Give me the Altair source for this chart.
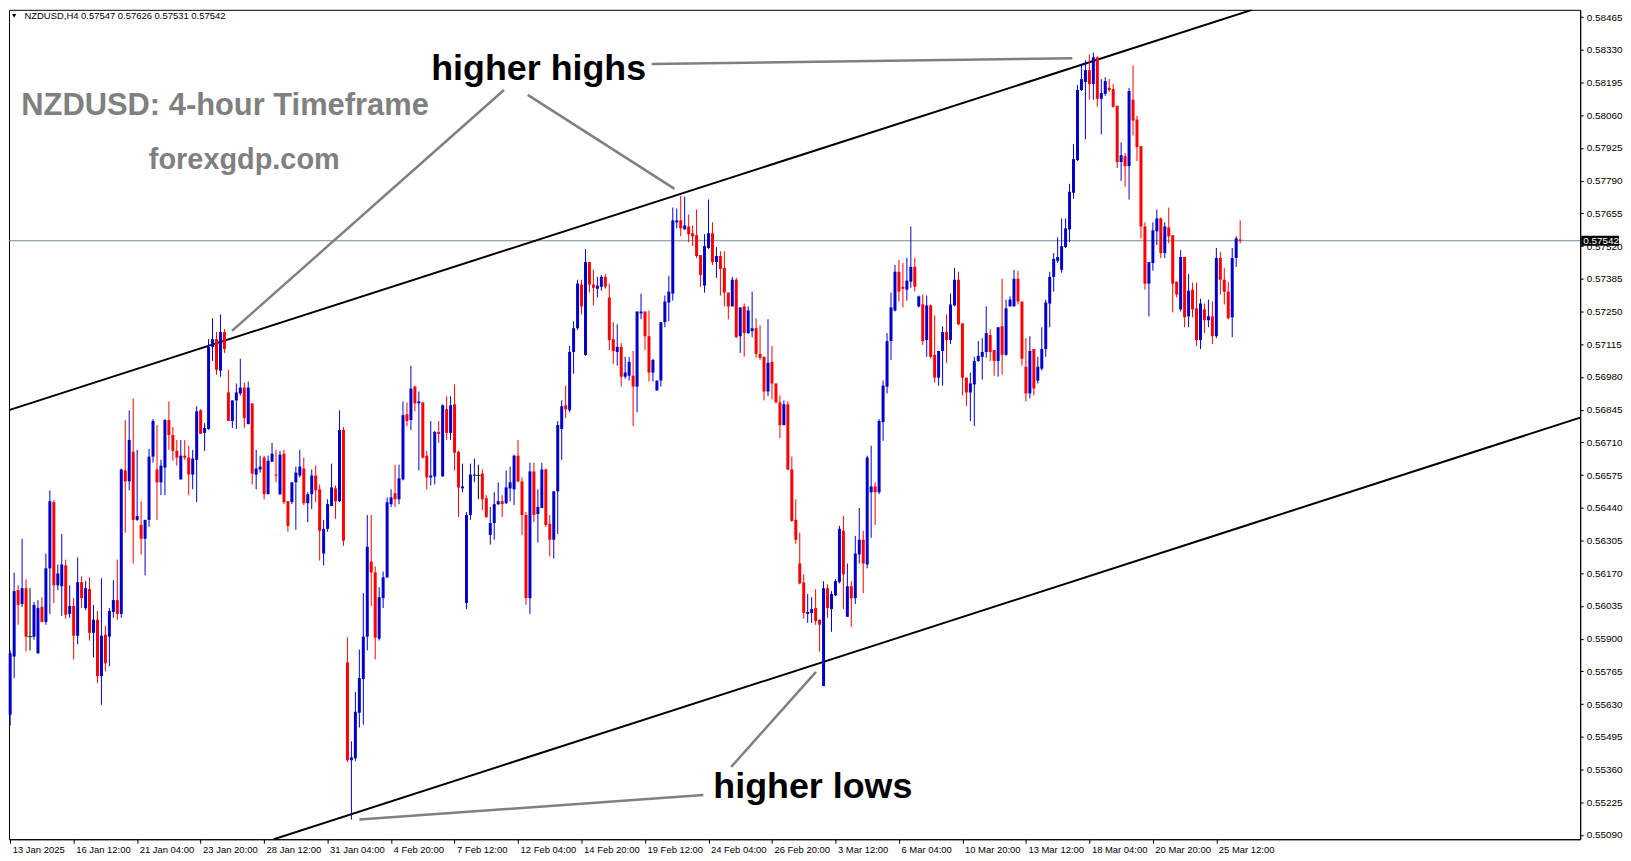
import altair as alt
import pandas as pd

# NZDUSD H4 candles, prices in points (1 point = 0.00001)
open_pts = [
    55586, 55826, 56100, 56043, 56108, 55908, 55908, 55839, 56031, 55969,
    56190, 56463, 56120, 56116, 56202, 56002, 56035, 55912, 56133, 56026,
    56104, 55924, 55978, 55745, 55916, 55908, 56010, 56059, 56002, 56594,
    56549, 56671, 56390, 56369, 56312, 56390, 56651, 56598, 56545, 56606,
    56802, 56740, 56675, 56557, 56655, 56647, 56577, 56638, 56842, 56749,
    56765, 57104, 57136, 57006, 57165, 56916, 56798, 56883, 56912, 56936,
    56785, 56871, 56577, 56598, 56647, 56496, 56630, 56577, 56496, 56663,
    56467, 56463, 56545, 56573, 56602, 56459, 56496, 56573, 56516, 56251,
    56353, 56447, 56520, 56467, 56761, 55802, 55398, 55406, 55594, 55733,
    55908, 56218, 56173, 55900, 56067, 56153, 56455, 56500, 56475, 56557,
    56826, 56802, 56940, 56871, 56875, 56655, 56565, 56569, 56753, 56569,
    56847, 56749, 56867, 56671, 56520, 56047, 56410, 56573, 56573, 56581,
    56479, 56328, 56377, 56455, 56467, 56459, 56520, 56516, 56655, 56549,
    56410, 56067, 56590, 56414, 56439, 56598, 56373, 56308, 56508, 56765,
    56863, 56842, 57083, 57181, 57361, 57071, 57454, 57361, 57344, 57352,
    57393, 57308, 57136, 57083, 57104, 56981, 56985, 56985, 56940, 57242,
    57250, 57148, 56998, 56924, 56965, 57206, 57287, 57324, 57618, 57626,
    57589, 57601, 57573, 57565, 57483, 57357, 57512, 57573, 57454, 57479,
    57430, 57328, 57271, 57381, 57148, 57271, 57161, 57169, 57181, 57075,
    57063, 56920, 57042, 56953, 56875, 56781, 56867, 56598, 56390, 56210,
    56132, 56002, 56006, 56026, 55978, 55704, 56108, 56022, 56079, 56133,
    56345, 55990, 56116, 56067, 56247, 56308, 56206, 56504, 56528, 56504,
    56793, 56940, 57128, 57254, 57414, 57352, 57340, 57373, 57434, 57271,
    57279, 57132, 57275, 57071, 56977, 57087, 57165, 57132, 57275, 57381,
    57201, 56977, 56916, 56949, 57046, 57063, 57083, 57153, 57091, 57046,
    57189, 57071, 57271, 57271, 57385, 57291, 57022, 56912, 57095, 56965,
    57014, 57095, 57283, 57393, 57459, 57422, 57516, 57589, 57740, 57875,
    58164, 58197, 58246, 58189, 58299, 58128, 58148, 58173, 58168, 58099,
    57867, 57891, 57850, 58124, 58042, 57932, 57601, 57365, 57450, 57581,
    57634, 57491, 57597, 57565, 57373, 57259, 57475, 57230, 57340, 57263,
    57132, 57259, 57214, 57230, 57148, 57471, 57381, 57332, 57226, 57471,
    57547,
]
high_pts = [
    55851, 56173, 56120, 56312, 56145, 56108, 56051, 56059, 56071, 56251,
    56512, 56471, 56206, 56332, 56226, 56120, 56067, 56235, 56157, 56137,
    56153, 56039, 56014, 56149, 55953, 56026, 56141, 56226, 56602, 56802,
    56842, 56891, 56679, 56467, 56390, 56683, 56806, 56781, 56638, 56806,
    56879, 56773, 56720, 56720, 56720, 56696, 56679, 56859, 56847, 56789,
    57136, 57222, 57165, 57238, 57177, 57010, 56883, 56953, 57055, 56957,
    56961, 56871, 56679, 56655, 56655, 56655, 56708, 56679, 56675, 56679,
    56467, 56545, 56610, 56679, 56647, 56504, 56598, 56614, 56536, 56390,
    56475, 56622, 56532, 56842, 56773, 55904, 55476, 55680, 55855, 56088,
    56410, 56410, 56198, 56112, 56177, 56483, 56516, 56618, 56618, 56879,
    56875, 57026, 56944, 56920, 56875, 56675, 56798, 56757, 56798, 56867,
    56900, 56900, 56949, 56675, 56622, 56422, 56622, 56643, 56618, 56598,
    56492, 56443, 56504, 56545, 56492, 56594, 56610, 56659, 56720, 56565,
    56422, 56626, 56626, 56516, 56626, 56602, 56410, 56508, 56798, 56883,
    56944, 57108, 57210, 57381, 57381, 57508, 57454, 57422, 57393, 57401,
    57405, 57365, 57206, 57197, 57120, 57063, 57063, 57087, 57250, 57324,
    57250, 57254, 57055, 56965, 57206, 57316, 57397, 57679, 57675, 57728,
    57724, 57650, 57605, 57671, 57483, 57569, 57712, 57618, 57516, 57499,
    57499, 57328, 57393, 57389, 57267, 57283, 57271, 57332, 57222, 57193,
    57063, 57218, 57108, 56953, 56904, 56883, 56879, 56651, 56475, 56337,
    56165, 56084, 56071, 56104, 55978, 56137, 56124, 56096, 56145, 56365,
    56406, 56210, 56137, 56324, 56439, 56345, 56655, 56696, 56545, 56806,
    56965, 57161, 57328, 57442, 57463, 57450, 57471, 57601, 57471, 57316,
    57320, 57316, 57279, 57234, 57087, 57189, 57238, 57324, 57430, 57414,
    57201, 56977, 56998, 57063, 57128, 57140, 57271, 57177, 57091, 57185,
    57385, 57299, 57312, 57422, 57418, 57291, 57140, 57148, 57095, 57063,
    57185, 57299, 57414, 57491, 57556, 57634, 57634, 57777, 57940, 58185,
    58270, 58287, 58311, 58319, 58303, 58209, 58217, 58209, 58189, 58099,
    57948, 57903, 58173, 58266, 58058, 57932, 57618, 57454, 57618, 57671,
    57638, 57618, 57679, 57565, 57373, 57503, 57475, 57405, 57369, 57369,
    57303, 57283, 57299, 57291, 57512, 57495, 57430, 57373, 57512, 57560,
    57626,
]
low_pts = [
    55541, 55737, 55957, 56031, 55847, 55851, 55896, 55839, 55969, 55957,
    56002, 56047, 56100, 55994, 55982, 55986, 55814, 55876, 56026, 56018,
    55892, 55822, 55716, 55627, 55765, 55786, 55986, 55978, 55986, 56337,
    56512, 56210, 56386, 56247, 56161, 56361, 56626, 56390, 56492, 56492,
    56679, 56634, 56614, 56557, 56638, 56492, 56516, 56463, 56745, 56675,
    56761, 57046, 56989, 56981, 57079, 56798, 56769, 56765, 56904, 56769,
    56785, 56536, 56516, 56585, 56475, 56496, 56630, 56545, 56492, 56455,
    56341, 56455, 56349, 56565, 56451, 56381, 56434, 56463, 56222, 56202,
    56341, 56447, 56394, 56463, 56283, 55390, 55153, 55394, 55533, 55545,
    55851, 56035, 55814, 55892, 56026, 56149, 56443, 56443, 56455, 56553,
    56777, 56761, 56838, 56594, 56643, 56516, 56532, 56536, 56708, 56569,
    56720, 56720, 56594, 56402, 56504, 56022, 56390, 56545, 56475, 56430,
    56398, 56288, 56308, 56451, 56402, 56455, 56467, 56451, 56545, 56328,
    56039, 56002, 56381, 56296, 56439, 56361, 56239, 56230, 56332, 56638,
    56810, 56834, 56993, 57173, 57238, 57067, 57328, 57275, 57308, 57336,
    57344, 57091, 57034, 57026, 56940, 56973, 56965, 56777, 56834, 57218,
    57091, 56961, 56961, 56924, 56940, 57185, 57210, 57295, 57593, 57560,
    57589, 57536, 57520, 57471, 57352, 57328, 57508, 57442, 57389, 57316,
    57271, 57218, 57271, 57140, 57079, 57063, 57157, 57144, 57059, 57050,
    56883, 56900, 56887, 56871, 56728, 56781, 56594, 56381, 56292, 56124,
    55982, 55965, 55965, 55957, 55847, 55704, 55986, 55928, 56075, 56128,
    56022, 55990, 55949, 56043, 56210, 56088, 56190, 56316, 56369, 56496,
    56716, 56912, 57050, 57250, 57291, 57267, 57295, 57348, 57332, 57267,
    57112, 57063, 57055, 56957, 56944, 56944, 57038, 57116, 57271, 57193,
    56904, 56859, 56798, 56777, 57042, 56969, 57059, 57046, 56985, 56981,
    56989, 57067, 57271, 57271, 57279, 57026, 56879, 56891, 56904, 56953,
    57006, 57063, 57185, 57332, 57450, 57410, 57512, 57536, 57716, 57871,
    58160, 57960, 58124, 58124, 58095, 57981, 58140, 58156, 58091, 57842,
    57789, 57765, 57712, 57977, 57871, 57552, 57340, 57230, 57418, 57524,
    57471, 57471, 57532, 57246, 57308, 57250, 57185, 57185, 57226, 57108,
    57095, 57161, 57185, 57116, 57140, 57320, 57279, 57218, 57144, 57434,
    57531,
]
close_pts = [
    55839, 56096, 56039, 56108, 55908, 55908, 56039, 56026, 55969, 56190,
    56467, 56120, 56169, 56206, 55998, 56035, 55912, 56133, 56067, 56108,
    55924, 55978, 55745, 55912, 55798, 56014, 56059, 56002, 56598, 56549,
    56720, 56390, 56406, 56312, 56390, 56651, 56798, 56545, 56614, 56802,
    56740, 56675, 56647, 56655, 56647, 56577, 56643, 56838, 56745, 56769,
    57104, 57136, 57010, 57165, 57095, 56798, 56883, 56916, 56936, 56810,
    56936, 56581, 56602, 56610, 56496, 56634, 56663, 56573, 56659, 56463,
    56365, 56545, 56585, 56610, 56459, 56496, 56573, 56512, 56345, 56353,
    56455, 56524, 56467, 56761, 56304, 55398, 55410, 55598, 55737, 55908,
    56279, 56173, 55904, 56071, 56153, 56463, 56483, 56475, 56561, 56822,
    56798, 56932, 56871, 56879, 56647, 56565, 56573, 56753, 56745, 56863,
    56749, 56863, 56667, 56524, 56528, 56410, 56577, 56577, 56573, 56475,
    56402, 56377, 56455, 56467, 56455, 56524, 56545, 56655, 56549, 56410,
    56067, 56590, 56410, 56443, 56598, 56369, 56308, 56508, 56781, 56859,
    56847, 57083, 57181, 57365, 57271, 57454, 57361, 57348, 57357, 57393,
    57352, 57132, 57087, 57104, 56981, 56998, 57042, 56940, 57250, 57250,
    57148, 56998, 57050, 56965, 57206, 57291, 57332, 57626, 57626, 57593,
    57605, 57569, 57560, 57479, 57401, 57520, 57573, 57454, 57479, 57426,
    57328, 57271, 57381, 57144, 57267, 57161, 57254, 57181, 57075, 57059,
    56920, 57038, 56953, 56875, 56781, 56867, 56598, 56386, 56308, 56128,
    56006, 56010, 56022, 55973, 55957, 56108, 56026, 56084, 56137, 56353,
    56165, 56116, 56067, 56251, 56308, 56210, 56647, 56528, 56504, 56798,
    56944, 57128, 57267, 57414, 57332, 57344, 57377, 57434, 57352, 57312,
    57128, 57275, 57063, 56977, 57087, 57165, 57132, 57279, 57381, 57197,
    56977, 56916, 56953, 57046, 57067, 57083, 57161, 57083, 57046, 57185,
    57071, 57263, 57299, 57385, 57291, 57055, 56912, 57087, 56932, 57022,
    57095, 57287, 57393, 57467, 57475, 57520, 57593, 57744, 57879, 58164,
    58209, 58246, 58189, 58299, 58128, 58152, 58201, 58164, 58095, 57867,
    57895, 57850, 58160, 58038, 57928, 57601, 57365, 57454, 57585, 57634,
    57491, 57601, 57560, 57365, 57320, 57475, 57226, 57336, 57259, 57132,
    57283, 57214, 57230, 57148, 57471, 57381, 57332, 57222, 57471, 57552,
    57542,
]

# one time label every 16 bars
time_labels = [
    "13 Jan 2025", "16 Jan 12:00", "21 Jan 04:00", "23 Jan 20:00", "28 Jan 12:00",
    "31 Jan 04:00", "4 Feb 20:00", "7 Feb 12:00", "12 Feb 04:00", "14 Feb 20:00",
    "19 Feb 12:00", "24 Feb 04:00", "26 Feb 20:00", "3 Mar 12:00", "6 Mar 04:00",
    "10 Mar 20:00", "13 Mar 12:00", "18 Mar 04:00", "20 Mar 20:00", "25 Mar 12:00",
]
label_bars = [16 * k for k in range(len(time_labels))]

price_ticks = [
    0.58465, 0.58330, 0.58195, 0.58060, 0.57925, 0.57790, 0.57655, 0.57520,
    0.57385, 0.57250, 0.57115, 0.56980, 0.56845, 0.56710, 0.56575, 0.56440,
    0.56305, 0.56170, 0.56035, 0.55900, 0.55765, 0.55630, 0.55495, 0.55360,
    0.55225, 0.55090,
]

last_price = 0.57542
header_text = "NZDUSD,H4  0.57547 0.57626 0.57531 0.57542"

# channel lines (bar index, price)
channel_line = ["upper", "upper", "lower", "lower"]
channel_bar = [-0.3, 313.0, 66.45, 395.7]
channel_price = [0.56843, 0.58495, 0.55072, 0.56812]

# grey annotation pointers (bar index, price)
pointer_id = ["a", "a", "b", "b", "c", "c", "d", "d", "e", "e"]
pointer_bar = [161.7, 267.7, 124.45, 55.9, 130.45, 167.45, 174.7, 88.0, 181.7, 203.1]
pointer_price = [0.58271, 0.58295, 0.58164, 0.57170, 0.58144, 0.57756,
                 0.55255, 0.55153, 0.55370, 0.55763]

W, H = 1578, 833
XDOM = [-0.3, 395.7]
YDOM = [0.55072, 0.58495]

df = pd.DataFrame({
    "bar": list(range(len(open_pts))),
    "o": [v / 1e5 for v in open_pts],
    "h": [v / 1e5 for v in high_pts],
    "l": [v / 1e5 for v in low_pts],
    "c": [v / 1e5 for v in close_pts],
})
df["dir"] = ["up" if c > o else ("down" if c < o else "doji") for o, c in zip(df.o, df.c)]

label_js = "[" + ",".join("'%s'" % t for t in time_labels) + "]"

xscale = alt.Scale(domain=XDOM, nice=False, zero=False)
yscale = alt.Scale(domain=YDOM, nice=False, zero=False)
cscale = alt.Scale(domain=["up", "down", "doji"], range=["#0000CD", "#FF0000", "#000000"])

x_axis = alt.Axis(
    values=label_bars, labelExpr=label_js + "[round(datum.value/16)]",
    orient="bottom", title=None, grid=False, labelAlign="left", labelOffset=2,
    labelFont="Liberation Sans", labelFontSize=9.5, labelColor="black",
    tickColor="black", tickSize=4, domainColor="black", labelPadding=1,
    labelOverlap=False, labelFlush=False,
)
y_axis = alt.Axis(
    values=price_ticks, format=".5f", orient="right", title=None, grid=False,
    labelFont="Liberation Sans", labelFontSize=10, labelColor="black",
    tickColor="black", tickSize=3, domainColor="black", labelPadding=3,
    labelOverlap=False, labelFlush=False, labelBaseline="middle",
)

X = alt.X("bar:Q", scale=xscale, axis=x_axis)
Y = lambda f: alt.Y(f, scale=yscale, axis=y_axis)

base = alt.Chart(df)

wick = base.mark_rule(strokeWidth=1).encode(
    x=X, y=Y("l:Q"), y2="h:Q",
    color=alt.Color("dir:N", scale=cscale, legend=None),
)
body = base.mark_rule(strokeWidth=3, strokeCap="butt").encode(
    x=X, y=Y("o:Q"), y2="c:Q",
    color=alt.Color("dir:N", scale=cscale, legend=None),
)
doji = base.transform_filter("datum.o == datum.c").mark_tick(
    orient="horizontal", size=5, thickness=1, color="black"
).encode(x=X, y=Y("o:Q"))

price_line = alt.Chart(pd.DataFrame({"p": [last_price]})).mark_rule(
    color="#778899", strokeWidth=1
).encode(y=Y("p:Q"))

chan_df = pd.DataFrame({"line": channel_line, "bar": channel_bar, "price": channel_price})
channels = alt.Chart(chan_df).mark_line(color="black", strokeWidth=2, clip=True).encode(
    x=X, y=Y("price:Q"), detail="line:N"
)

ptr_df = pd.DataFrame({"id": pointer_id, "bar": pointer_bar, "price": pointer_price})
pointers = alt.Chart(ptr_df).mark_line(color="#808080", strokeWidth=2.5).encode(
    x=X, y=Y("price:Q"), detail="id:N"
)

def txt(label, bar, price, size, color, align="center", weight="bold", font="Liberation Sans"):
    return alt.Chart(pd.DataFrame({"bar": [bar], "price": [price], "t": [label]})).mark_text(
        font=font, fontSize=size, fontWeight=weight, color=color, align=align, baseline="middle"
    ).encode(x=X, y=Y("price:Q"), text="t:N")

t_hh = txt("higher highs", 133.2, 0.58250, 36, "black")
t_hl = txt("higher lows", 202.3, 0.55288, 36, "black")
t_title = txt("NZDUSD: 4-hour Timeframe", 2.8, 0.58099, 31, "#808080", align="left")
t_site = txt("forexgdp.com", 59.0, 0.57875, 29, "#808080")
t_head = txt(header_text, 3.6, 0.58470, 9.5, "black", align="left", weight="normal")

tri = alt.Chart(pd.DataFrame({"bar": [1.0], "price": [0.58470]})).mark_point(
    shape="triangle-down", filled=True, color="black", size=18, opacity=1
).encode(x=X, y=Y("price:Q"))

lab_df = pd.DataFrame({"p": [last_price], "p1": [last_price + 0.00021],
                       "p2": [last_price - 0.00021], "t": ["%.5f" % last_price]})
lab_box = alt.Chart(lab_df).mark_rect(color="black").encode(
    x=alt.value(W + 1), x2=alt.value(W + 39), y=Y("p1:Q"), y2="p2:Q"
)
lab_txt = alt.Chart(lab_df).mark_text(
    font="Liberation Sans", fontSize=10, color="white", align="left", baseline="middle"
).encode(x=alt.value(W + 3), y=Y("p:Q"), text="t:N")

chart = alt.layer(
    price_line, channels, pointers, wick, body, doji,
    t_hh, t_hl, t_title, t_site, t_head, tri, lab_box, lab_txt,
).properties(
    width=W, height=H, padding={"left": 0, "top": 0, "right": 0, "bottom": 0},
    background="white",
).configure_view(
    stroke="black", strokeWidth=1
).configure_axis(
    labelOverlap=False, labelFlush=False
)

chart.save("out.html", embed_options={"renderer": "svg", "actions": False})
